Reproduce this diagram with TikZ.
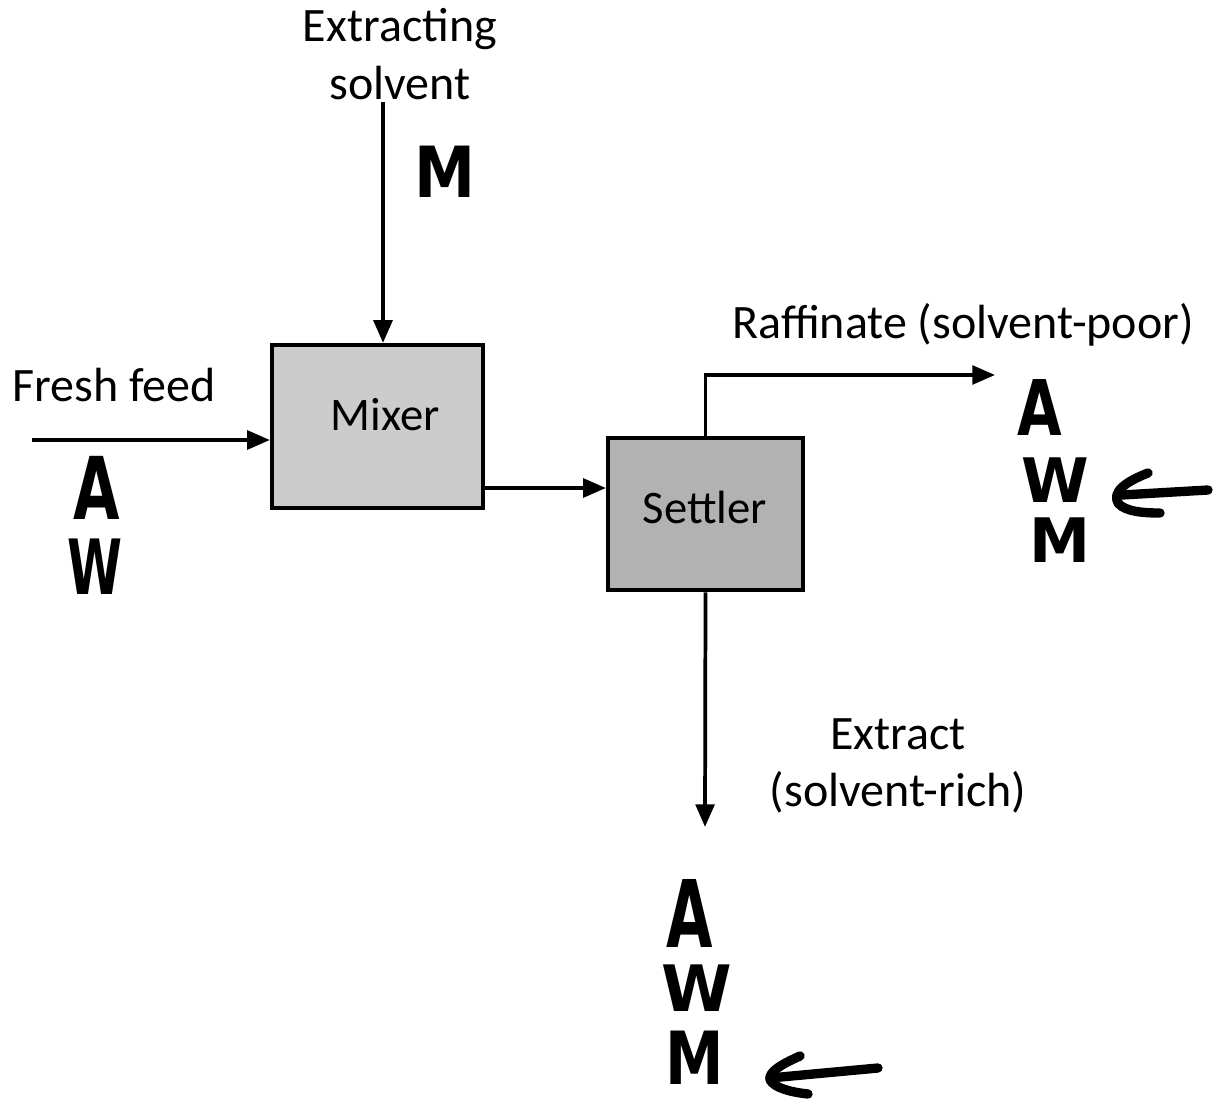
\documentclass[tikz,border=0pt]{standalone}
\usepackage{fontspec}
\setmainfont{Carlito}
\newfontfamily\handfont{DejaVu Sans}
\usetikzlibrary{arrows.meta}
\begin{document}
\begin{tikzpicture}[x=0.75pt,y=-0.75pt,
  unitbox/.style={draw=black,line width=3.4pt,inner sep=0pt},
  unittext/.style={font=\fontsize{35}{40}\selectfont,inner sep=0pt},
  stream/.style={line width=2.8pt,-{Triangle[length=17pt,width=14pt]}},
  label/.style={font=\fontsize{36}{43}\selectfont,align=center,inner sep=0pt},
  hand/.style={font=\handfont\bfseries\fontsize{#1}{#1}\selectfont,inner sep=0pt},
  hand/.default=44,
  handarrow/.style={line width=7pt,line cap=round,line join=round}]
\useasboundingbox (0,0) rectangle (1214,1102);

% process units
\node[unitbox,fill=black!20,minimum width=158pt,minimum height=122pt] (mixer) at (377.5,426.5) {};
\node[unittext] (mixtxt) at (385,415) {Mixer};
\node[unitbox,fill=black!30,minimum width=146pt,minimum height=114pt] (settler) at (705.5,514) {};
\node[unittext] (settxt) at (705,507) {Settler};

% stream labels
\node[label] (solv) at (400,54) {Extracting\\solvent};
\node[label,anchor=west] (feed) at (12,385) {Fresh feed};
\node[label,anchor=west] (raff) at (732,325) {Raffinate (solvent-poor)};
\node[label] (extr) at (898,766) {Extract\\(solvent-rich)};

% stream end points
\coordinate (feedin) at (32,440);
\coordinate (solvin) at (383,102);
\coordinate (raffout) at (995,375);
\coordinate (extrout) at (705,827);

% streams
\draw[stream] (feedin) -- (feedin -| mixer.west);
\draw[stream] (solvin) -- (solvin |- mixer.north);
\draw[stream] (mixer.east |- 0,488) -- (settler.west |- 0,488);
\draw[stream] (settler.north) |- (raffout);
\draw[stream] (settler.south) -- (extrout);

% handwritten component notes
\node[hand=46] (m0) at (445,172) {\scalebox{1}[1.15]{M}};
\node[hand=50] (a1) at (97,488) {\scalebox{0.9}[1.3]{A}};
\node[hand=44] (w1) at (95,567) {\scalebox{0.85}[1.3]{W}};
\node[hand=48] (a2) at (1040,408) {\scalebox{0.9}[1.2]{A}};
\node[hand=46] (w2) at (1055,480) {W};
\node[hand=46] (m2) at (1060,540) {M};
\node[hand=50] (a3) at (690,913) {\scalebox{0.9}[1.4]{A}};
\node[hand=48] (w3) at (697,988) {W};
\node[hand=44] (m3) at (695,1058) {\scalebox{1}[1.25]{M}};

% handwritten pointers
\coordinate (p2s) at (1208,490);
\coordinate (p2e) at (1122,495);
\draw[handarrow] (p2s) -- (p2e);
\draw[handarrow] (1148,473) .. controls (1125,482) and (1112,492) .. (1118,503) .. controls (1125,512) and (1145,513) .. (1160,513);
\coordinate (p3s) at (878,1068);
\coordinate (p3e) at (770,1078);
\draw[handarrow] (p3s) -- (p3e);
\draw[handarrow] (800,1056) .. controls (782,1064) and (768,1072) .. (770,1080) .. controls (775,1088) and (790,1092) .. (808,1094);
\end{tikzpicture}
\end{document}
